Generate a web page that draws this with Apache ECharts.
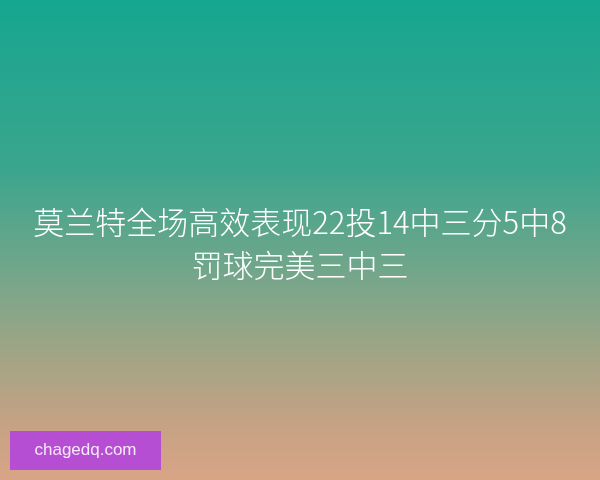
<!DOCTYPE html>
<html>
<head>
<meta charset="utf-8">
<script src="https://cdn.jsdelivr.net/npm/echarts@6/dist/echarts.min.js"></script>
<style>html,body{margin:0;padding:0;}#c{width:600px;height:480px;}</style>
</head>
<body>
<div id="c"></div>
<script>
var titleLines = ['莫兰特全场高效表现22投14中三分5中8', '罚球完美三中三'];
var siteLabel = 'chagedq.com';
var gradientStops = [
  [0, '#15a690'],
  [0.35, '#3ba58d'],
  [0.55, '#6ea68b'],
  [0.72, '#9ca586'],
  [0.88, '#c5a284'],
  [1, '#d9a486']
];

var chart = echarts.init(document.getElementById('c'), null, {renderer: 'canvas'});
var font = '"Noto Sans CJK SC", "Noto Sans", sans-serif';
var lineElems = titleLines.map(function (t, i) {
  return {
    type: 'text',
    x: 300,
    y: 222 + i * 43,
    style: {
      text: t,
      fill: '#ffffff',
      font: '300 31px ' + font,
      align: 'center',
      verticalAlign: 'middle'
    }
  };
});
chart.setOption({
  backgroundColor: {
    type: 'linear', x: 0, y: 0, x2: 0, y2: 1,
    colorStops: gradientStops.map(function (s) { return {offset: s[0], color: s[1]}; })
  },
  graphic: lineElems.concat([
    {
      type: 'rect',
      shape: {x: 10, y: 431, width: 151, height: 39},
      style: {fill: '#b54ed2'}
    },
    {
      type: 'text',
      x: 85.5,
      y: 450.5,
      style: {
        text: siteLabel,
        fill: '#f6e8f8',
        font: '17px "Liberation Sans", Arial, sans-serif',
        align: 'center',
        verticalAlign: 'middle'
      }
    }
  ])
});
</script>
</body>
</html>
